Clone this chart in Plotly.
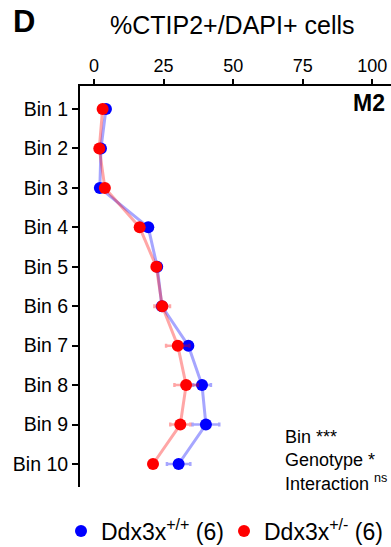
import plotly.graph_objects as go

bins = ["Bin 1", "Bin 2", "Bin 3", "Bin 4", "Bin 5", "Bin 6", "Bin 7", "Bin 8", "Bin 9", "Bin 10"]
wt_mean = [4.3, 2.5, 2.1, 19.5, 22.7, 24.4, 33.9, 38.8, 40.2, 30.4]
wt_sem = [0.6, 0.5, 0.5, 1.0, 1.0, 1.8, 1.5, 3.2, 4.8, 4.2]
het_mean = [3.1, 1.9, 3.9, 16.4, 22.4, 24.5, 30.1, 33.1, 31.0, 21.2]
het_sem = [0.6, 0.5, 0.6, 1.0, 1.0, 2.8, 4.2, 4.2, 3.6, 1.0]
x_ticks = [0, 25, 50, 75, 100]

FONT = "Liberation Sans, Arial, Helvetica, sans-serif"
BLUE = "#0000ff"
RED = "#ff0000"

fig = go.Figure()

for mean, sem, col, rgba in [
    (wt_mean, wt_sem, BLUE, "rgba(0,0,255,0.35)"),
    (het_mean, het_sem, RED, "rgba(255,0,0,0.35)"),
]:
    fig.add_trace(go.Scatter(
        x=mean, y=bins, mode="lines+markers",
        line=dict(color=rgba, width=3),
        marker=dict(color=col, size=12),
        error_x=dict(type="data", array=sem, visible=True,
                     color=rgba, thickness=2.5, width=2),
        showlegend=False, hoverinfo="skip",
    ))

fig.add_trace(go.Scatter(x=[None], y=[None], mode="markers",
                         marker=dict(color=BLUE, size=12),
                         name="Ddx3x<sup>+/+</sup> (6)", legend="legend"))
fig.add_trace(go.Scatter(x=[None], y=[None], mode="markers",
                         marker=dict(color=RED, size=12),
                         name="Ddx3x<sup>+/-</sup> (6)", legend="legend2"))

leg_common = dict(orientation="h", xref="container", yref="container",
                  y=1 - 531 / 547, xanchor="left", yanchor="middle",
                  font=dict(size=23, family=FONT), itemwidth=30,
                  bgcolor="rgba(0,0,0,0)")

fig.update_layout(
    width=391, height=547,
    margin=dict(l=80, r=0, t=86, b=60),
    paper_bgcolor="white", plot_bgcolor="white",
    font=dict(family=FONT, color="black"),
    legend=dict(x=61 / 391, **leg_common),
    legend2=dict(x=224 / 391, **leg_common),
    xaxis=dict(side="top", range=[-5.03, 106.7], tickvals=x_ticks,
               showgrid=False, zeroline=False, showline=True,
               linecolor="black", linewidth=2, ticks="outside",
               ticklen=5, tickwidth=1.5, tickcolor="black",
               tickfont=dict(size=18, family=FONT)),
    yaxis=dict(type="category", categoryorder="array", categoryarray=bins,
               range=[9.583, -0.583], showgrid=False, zeroline=False,
               showline=True, linecolor="black", linewidth=2,
               ticks="outside", ticklen=6, tickwidth=1.5, tickcolor="black",
               tickfont=dict(size=19.5, family=FONT)),
    annotations=[
        dict(text="<b>D</b>", xref="paper", yref="paper",
             x=(11 - 80) / 311, y=1 + (86 - 22) / 401, xanchor="left", yanchor="middle",
             showarrow=False, font=dict(size=31, family=FONT)),
        dict(text="%CTIP2+/DAPI+ cells", xref="paper", yref="paper",
             x=(232 - 80) / 311, y=1 + (86 - 25) / 401, xanchor="center",
             yanchor="middle", showarrow=False, font=dict(size=25, family=FONT)),
        dict(text="<b>M2</b>", xref="paper", yref="paper",
             x=(351 - 80) / 311, y=1 - (103 - 86) / 401, xanchor="left",
             yanchor="middle", showarrow=False, font=dict(size=23, family=FONT)),
        dict(text="Bin ***<br>Genotype *<br>Interaction <sup>ns</sup>",
             xref="paper", yref="paper", x=(283 - 80) / 311,
             y=1 - (460 - 86) / 401, xanchor="left", yanchor="middle",
             align="left", showarrow=False, font=dict(size=18, family=FONT)),
    ],
)

fig.write_html("out.html")
